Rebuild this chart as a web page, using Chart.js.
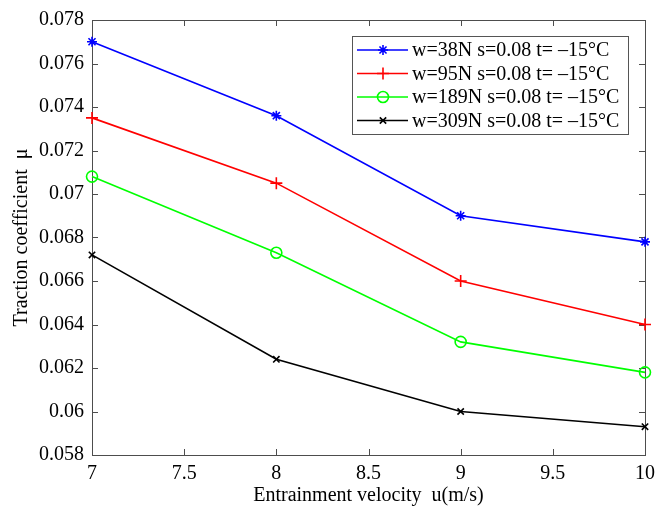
<!DOCTYPE html>
<html>
<head>
<meta charset="utf-8">
<script src="https://cdn.jsdelivr.net/npm/chart.js@4"></script>
<style>
  html, body { margin: 0; padding: 0; background: #fff; }
  #wrap { width: 657px; height: 513px; }
</style>
</head>
<body>
<div id="wrap"><canvas id="chart" width="657" height="513"></canvas></div>
<script>
// velocities (m/s)
const velocity = [7, 8, 9, 10];

// traction coefficient per load
const mu38 = [0.0770, 0.0736, 0.0690, 0.0678];
const mu95 = [0.0735, 0.0705, 0.0660, 0.0640];
const mu189 = [0.0708, 0.0673, 0.0632, 0.0618];
const mu309 = [0.0672, 0.0624, 0.0600, 0.0593];

const seriesLabels = [
    "w=38N s=0.08 t= \u201315\u00B0C",
    "w=95N s=0.08 t= \u201315\u00B0C",
    "w=189N s=0.08 t= \u201315\u00B0C",
    "w=309N s=0.08 t= \u201315\u00B0C"
];

const FONT = "'Liberation Serif', 'Times New Roman', serif";
const AXIS_COLOR = "#4d4d4d";

function toPoints(ys) {
    return velocity.map((v, i) => ({ x: v, y: ys[i] }));
}

function makeSeries(label, ys, color, style, radius) {
    return {
        label,
        data: toPoints(ys),
        borderColor: color,
        backgroundColor: "rgba(0,0,0,0)",
        borderWidth: 1.6,
        pointStyle: style,
        pointRadius: radius,
        pointBorderWidth: 1.6,
        pointBorderColor: color,
        pointBackgroundColor: "rgba(0,0,0,0)",
        clip: false,
        tension: 0
    };
}

// MATLAB-style box with inward ticks on all four sides
const boxTicks = {
    id: "boxTicks",
    beforeDatasetsDraw(chart) {
        const { ctx, chartArea: a, scales } = chart;
        const len = 6;
        ctx.save();
        ctx.strokeStyle = AXIS_COLOR;
        ctx.lineWidth = 1;
        ctx.beginPath();
        scales.x.ticks.forEach(t => {
            const px = Math.round(scales.x.getPixelForValue(t.value)) + 0.5;
            ctx.moveTo(px, a.bottom); ctx.lineTo(px, a.bottom - len);
            ctx.moveTo(px, a.top); ctx.lineTo(px, a.top + len);
        });
        scales.y.ticks.forEach(t => {
            const py = Math.round(scales.y.getPixelForValue(t.value)) + 0.5;
            ctx.moveTo(a.left, py); ctx.lineTo(a.left + len, py);
            ctx.moveTo(a.right, py); ctx.lineTo(a.right - len, py);
        });
        ctx.stroke();
        ctx.strokeRect(Math.round(a.left) + 0.5, Math.round(a.top) + 0.5,
            Math.round(a.right - a.left), Math.round(a.bottom - a.top));
        ctx.restore();
    }
};

// legend box in the upper right of the plot
const boxLegend = {
    id: "boxLegend",
    afterDraw(chart) {
        const { ctx, chartArea: a } = chart;
        const right = a.right - 17, top = a.top + 16;
        const w = 276, h = 98;
        const left = right - w;
        ctx.save();
        ctx.fillStyle = "#fff";
        ctx.fillRect(left, top, w, h);
        ctx.strokeStyle = "#555";
        ctx.lineWidth = 1;
        ctx.strokeRect(Math.round(left) + 0.5, Math.round(top) + 0.5, w, h);
        ctx.font = "20px " + FONT;
        ctx.textBaseline = "middle";
        chart.data.datasets.forEach((ds, i) => {
            const y = top + 14 + i * 23.5;
            ctx.strokeStyle = ds.borderColor;
            ctx.lineWidth = 1.6;
            ctx.beginPath();
            ctx.moveTo(left + 5, y);
            ctx.lineTo(left + 56, y);
            ctx.stroke();
            ctx.fillStyle = "rgba(0,0,0,0)";
            Chart.helpers.drawPoint(ctx, {
                pointStyle: ds.pointStyle,
                radius: ds.pointRadius,
                borderWidth: 1.6,
                rotation: 0
            }, left + 31, y);
            ctx.fillStyle = "#000";
            ctx.fillText(ds.label, left + 60, y + 1);
        });
        ctx.restore();
    }
};

new Chart(document.getElementById("chart"), {
    type: "line",
    data: {
        datasets: [
            makeSeries(seriesLabels[0], mu38, "#0000ff", "star", 5),
            makeSeries(seriesLabels[1], mu95, "#ff0000", "cross", 6),
            makeSeries(seriesLabels[2], mu189, "#00ff00", "circle", 5.5),
            makeSeries(seriesLabels[3], mu309, "#000000", "crossRot", 4.5)
        ]
    },
    options: {
        responsive: false,
        animation: false,
        layout: { padding: { top: 18, right: 12, left: 0, bottom: 0 } },
        plugins: {
            legend: { display: false },
            tooltip: { enabled: false }
        },
        scales: {
            x: {
                type: "linear",
                min: 7,
                max: 10,
                afterFit(s) {
                    s.height = 58;
                    s.paddingLeft = 0;
                    s.paddingRight = 0;
                },
                border: { display: false },
                grid: { display: false, drawTicks: false },
                ticks: {
                    stepSize: 0.5,
                    padding: 7,
                    color: "#000",
                    font: { family: FONT, size: 20 },
                    maxRotation: 0,
                    callback: v => String(v)
                },
                title: {
                    display: true,
                    text: "Entrainment velocity  u(m/s)",
                    color: "#000",
                    font: { family: FONT, size: 20 },
                    padding: { top: 0, bottom: 5 }
                }
            },
            y: {
                min: 0.058,
                max: 0.078,
                afterFit(s) { s.width = 92; },
                border: { display: false },
                grid: { display: false, drawTicks: false },
                ticks: {
                    stepSize: 0.002,
                    padding: 8,
                    color: "#000",
                    font: { family: FONT, size: 20 },
                    callback: v => String(Number(v.toFixed(3)))
                },
                title: {
                    display: true,
                    text: "Traction coefficient  \u03BC",
                    color: "#000",
                    font: { family: FONT, size: 20 },
                    padding: { top: 9.5, bottom: 0 }
                }
            }
        }
    },
    plugins: [boxTicks, boxLegend]
});
</script>
</body>
</html>
